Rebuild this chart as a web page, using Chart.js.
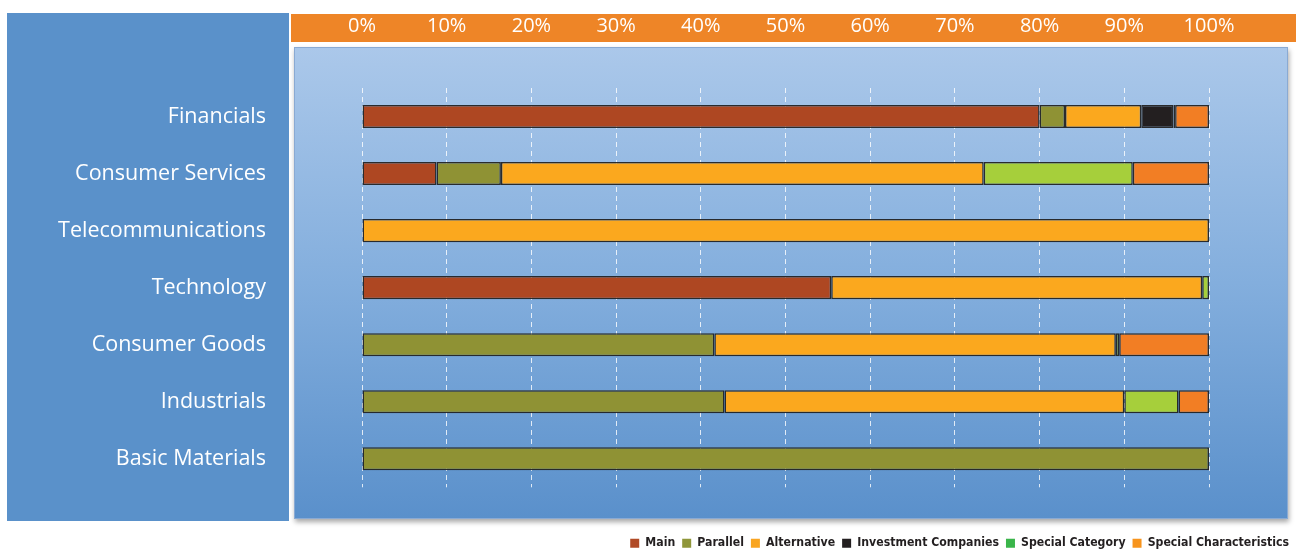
<!DOCTYPE html>
<html>
<head>
<meta charset="utf-8">
<script src="https://cdn.jsdelivr.net/npm/chart.js@4/dist/chart.umd.min.js"></script>
<style>
  html, body { margin: 0; padding: 0; background: #ffffff; }
  canvas { display: block; }
</style>
</head>
<body>
<canvas id="c" width="1296" height="551"></canvas>
<script>
// ---- data ----
const categories = ["Financials", "Consumer Services", "Telecommunications", "Technology", "Consumer Goods", "Industrials", "Basic Materials"];
const tickLabels = ["0%", "10%", "20%", "30%", "40%", "50%", "60%", "70%", "80%", "90%", "100%"];
const seriesNames = ["Main", "Parallel", "Alternative", "Investment Companies", "Special Category", "Special Characteristics"];
const main                   = [80.0,  8.8,   0, 55.4,  0,    0,    0];
const parallel               = [ 3.0,  7.6,   0,  0,   41.6, 42.8, 100];
const alternative            = [ 9.0, 57.0, 100, 43.8, 47.4, 47.2,   0];
const investmentCompanies    = [ 3.8,  0,     0,  0,    0,    0,     0];
const specialCategory        = [ 0.2, 17.6,   0,  0.8,  0.4,  6.4,   0];
const specialCharacteristics = [ 4.0,  9.0,   0,  0,   10.6,  3.6,   0];

// ---- styles ----
const barColors = ["#AE4722", "#8F9234", "#FBA81E", "#231F20", "#A6CF3B", "#F27E24"];
const legendColors = ["#B04A26", "#8F963A", "#F9A521", "#231F20", "#3AB54A", "#F7941D"];
const seriesData = [main, parallel, alternative, investmentCompanies, specialCategory, specialCharacteristics];

const datasets = seriesNames.map((name, i) => ({
  label: name,
  data: seriesData[i],
  backgroundColor: barColors[i],
  borderColor: "rgba(35,35,35,0.95)",
  borderWidth: 1.5,
  borderSkipped: false,
  barPercentage: 0.405,
  categoryPercentage: 1.0
}));

const backdrop = {
  id: "backdrop",
  beforeDraw(chart) {
    const ctx = chart.ctx;
    ctx.save();
    // left label panel
    ctx.fillStyle = "#5A91CA";
    ctx.fillRect(7, 13, 282, 508);
    // orange header band
    ctx.fillStyle = "#EE8527";
    ctx.fillRect(291, 14, 1005, 28);
    // plot panel with shadow and gradient
    ctx.save();
    ctx.shadowColor = "rgba(0,0,0,0.35)";
    ctx.shadowBlur = 5;
    ctx.shadowOffsetX = 1;
    ctx.shadowOffsetY = 3;
    ctx.fillStyle = "#7FA9D9";
    ctx.fillRect(294, 47, 994, 472);
    ctx.restore();
    const g = ctx.createLinearGradient(0, 47, 0, 519);
    g.addColorStop(0, "#ABC8EA");
    g.addColorStop(0.5, "#83AEDD");
    g.addColorStop(1, "#5A90CB");
    ctx.fillStyle = g;
    ctx.fillRect(295, 48, 992, 470);
    ctx.strokeStyle = "rgba(140,170,210,0.9)";
    ctx.lineWidth = 1;
    ctx.strokeRect(294.5, 47.5, 993, 471);
    ctx.restore();
  }
};

new Chart(document.getElementById("c"), {
  type: "bar",
  data: { labels: categories, datasets: datasets },
  plugins: [backdrop],
  options: {
    indexAxis: "y",
    responsive: false,
    animation: false,
    devicePixelRatio: 1,
    layout: { padding: { left: 0, right: 0, top: 0, bottom: -8.25 } },
    scales: {
      x: {
        position: "top",
        stacked: true,
        min: 0,
        max: 100,
        ticks: {
          stepSize: 10,
          padding: 50,
          color: "#FFFFFF",
          font: { family: "'Open Sans', 'DejaVu Sans', sans-serif", size: 20 },
          maxRotation: 0,
          callback: (v, i) => tickLabels[i]
        },
        grid: { color: "rgba(255,255,255,0.8)", lineWidth: 1, drawTicks: false },
        border: { display: false, dash: [5, 4] },
        afterFit: s => { s.height = 88; s.paddingLeft = 0; s.paddingRight = 87; }
      },
      y: {
        stacked: true,
        ticks: {
          padding: 96,
          color: "#FFFFFF",
          font: { family: "'Open Sans', 'DejaVu Sans', sans-serif", size: 21.5 }
        },
        grid: { display: false, drawTicks: false },
        border: { display: false },
        afterFit: s => { s.width = 362; s.paddingTop = 0; s.paddingBottom = 0; }
      }
    },
    plugins: {
      tooltip: { enabled: false },
      legend: {
        position: "bottom",
        align: "end",
        title: { display: true, text: "", padding: { top: 23.55, bottom: 0 }, font: { size: 16 } },
        labels: {
          boxWidth: 9,
          boxHeight: 9,
          padding: 7,
          color: "#231F20",
          font: { family: "'Liberation Sans Narrow', 'DejaVu Sans Condensed', sans-serif", size: 12.2, weight: "bold" },
          generateLabels(chart) {
            const items = Chart.defaults.plugins.legend.labels.generateLabels(chart);
            items.forEach((it, i) => {
              it.fillStyle = legendColors[i];
              it.strokeStyle = legendColors[i];
              it.lineWidth = 0;
            });
            return items;
          }
        }
      }
    }
  }
});
</script>
</body>
</html>
